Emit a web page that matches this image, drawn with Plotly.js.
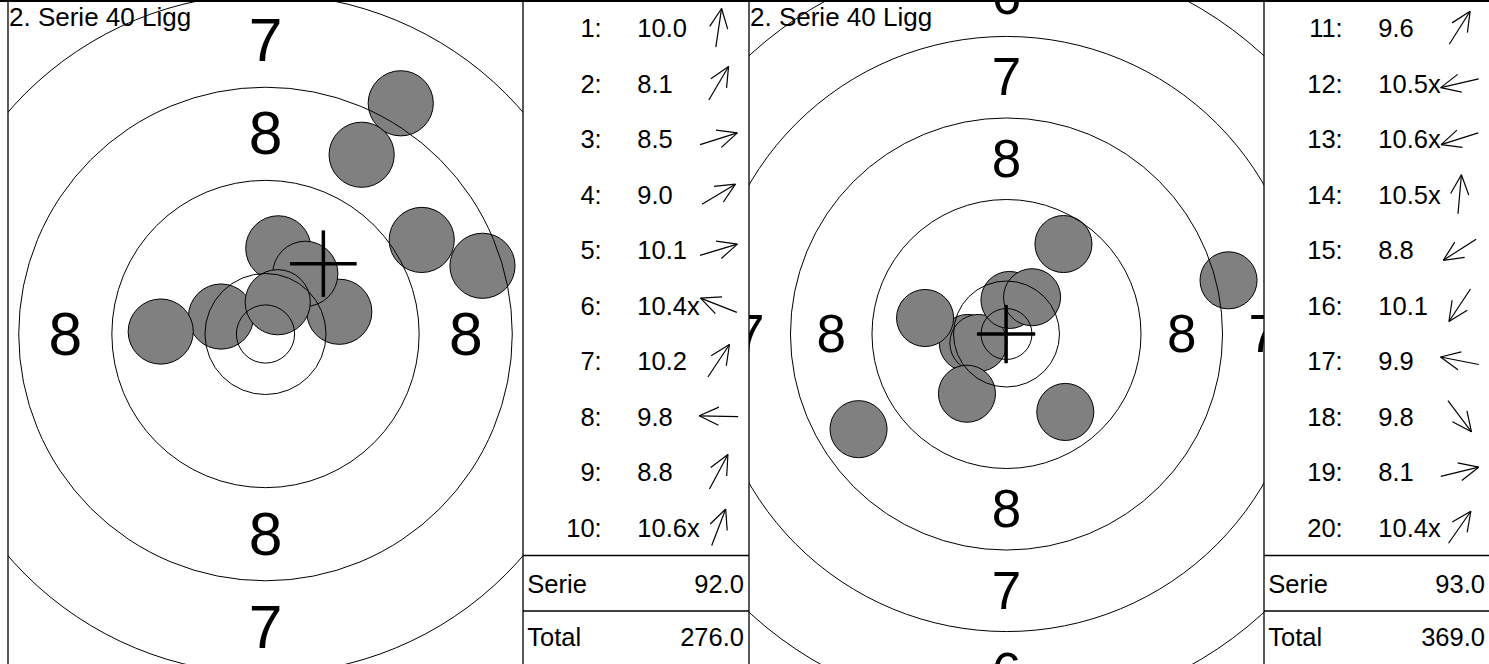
<!DOCTYPE html>
<html><head><meta charset="utf-8">
<script src="https://cdn.plot.ly/plotly-3.0.1.min.js"></script>
<style>html,body{margin:0;padding:0;background:#fff;overflow:hidden}#chart{width:1489px;height:664px}</style>
</head><body><div id="chart"></div>
<script>
// ---------------- data ----------------
const titleText = '2. Serie 40 Ligg';

const shotNumbers1 = [1, 2, 3, 4, 5, 6, 7, 8, 9, 10];
const shotScores1  = ['10.0', '8.1', '8.5', '9.0', '10.1', '10.4x', '10.2', '9.8', '8.8', '10.6x'];
const shotX1 = [1.10, 11.62, 18.64, 13.42, 6.34, -3.82, 3.42, -9.00, 8.26, 1.05];   // mm, right = +
const shotY1 = [7.36, 19.82, 5.86, 8.08, 1.91, 1.50, 5.17, 0.21, 15.40, 2.73];      // mm, up = +
const groupCenter1 = [4.97, 6.04];
const seriesScore1 = '92.0';
const totalScore1  = '276.0';

const shotNumbers2 = [11, 12, 13, 14, 15, 16, 17, 18, 19, 20];
const shotScores2  = ['9.6', '10.5x', '10.6x', '10.5x', '8.8', '10.1', '9.9', '9.8', '8.1', '10.4x'];
const shotX2 = [5.59, -3.80, -2.76, 0.29, -14.52, -3.88, -7.99, 5.77, 21.79, 2.51];
const shotY2 = [8.83, -0.88, -0.88, 3.34, -9.34, -5.86, 1.57, -7.65, 5.27, 3.61];
const groupCenter2 = [-0.04, -0.01];
const seriesScore2 = '93.0';
const totalScore2  = '369.0';

const ringRadii      = [2.5, 5.2, 13.2, 21.2, 29.2, 37.2, 45.2, 53.2, 61.2, 69.2, 77.2]; // mm
const zoneLabels     = ['8', '7', '6', '5', '4', '3', '2', '1'];
const zoneLabelRadii = [17.2, 25.2, 33.2, 41.2, 49.2, 57.2, 65.2, 73.2];
const bulletRadius = 2.8;

// ---------------- layout constants ----------------
const W = 1489, H = 664;
const TARGET_W = 515, TABLE_W = 226;
const FONT = 'Liberation Sans, Arial, Helvetica, sans-serif';
const ROW0 = 27.75, ROW_H = 55.5;
const SERIE_Y = 583.3, TOTAL_Y = 636.7, LINE1_Y = 555.6, LINE2_Y = 611;
const NUM_RIGHT = 78.7, SCORE_LEFT = 114.3, ARROW_CX = 195.7, LEFT_PAD = 4.3, RIGHT_X = 221;
const ARROW_L = 39, HEAD_L = 21.5, HEAD_ANG = 25 * Math.PI / 180;
const TABLE_FS = 25.5, TITLE_FS = 26, LABEL_MM = 5.2, CROSS_MM = 2.86;
const TEXT_SHIFT = 0.105;   // vertical correction of text baseline, in font-size units

const panels = [
  {x0: 8,   scale: 11.64, cy: 334, nums: shotNumbers1, scores: shotScores1, xs: shotX1, ys: shotY1,
   mpi: groupCenter1, serie: seriesScore1, total: totalScore1, ax: ['x', 'y', 'x2', 'y2']},
  {x0: 749, scale: 10.19, cy: 334, nums: shotNumbers2, scores: shotScores2, xs: shotX2, ys: shotY2,
   mpi: groupCenter2, serie: seriesScore2, total: totalScore2, ax: ['x3', 'y3', 'x4', 'y4']}
];

const traces = [], shapes = [], annotations = [];
const layout = {
  width: W, height: H, margin: {l: 0, r: 0, t: 0, b: 0},
  paper_bgcolor: '#ffffff', plot_bgcolor: '#ffffff', showlegend: false,
  font: {family: FONT, color: '#000'}
};
const axName = id => (id[0] === 'x' ? 'xaxis' : 'yaxis') + (id.length > 1 ? id.slice(1) : '');
const hidden = {visible: false, showgrid: false, zeroline: false, fixedrange: true};

panels.forEach(p => {
  const [tx, ty, bx, by] = p.ax;
  const s = p.scale;
  const tabStart = p.x0 + TARGET_W;
  const tabEnd = Math.min(W, tabStart + TABLE_W);

  layout[axName(tx)] = Object.assign({}, hidden, {anchor: ty,
    domain: [p.x0 / W, tabStart / W], range: [-TARGET_W / 2 / s, TARGET_W / 2 / s]});
  layout[axName(ty)] = Object.assign({}, hidden, {anchor: tx,
    domain: [0, 1], range: [-(H - p.cy) / s, p.cy / s]});
  layout[axName(bx)] = Object.assign({}, hidden, {anchor: by,
    domain: [tabStart / W, tabEnd / W], range: [0, tabEnd - tabStart]});
  layout[axName(by)] = Object.assign({}, hidden, {anchor: bx,
    domain: [0, 1], range: [H, 0]});

  // shots (drawn first, rings on top)
  p.xs.forEach((x, i) => {
    shapes.push({type: 'circle', xref: tx, yref: ty, layer: 'below',
      x0: x - bulletRadius, x1: x + bulletRadius, y0: p.ys[i] - bulletRadius, y1: p.ys[i] + bulletRadius,
      fillcolor: '#808080', line: {color: '#000', width: 1}});
  });
  ringRadii.forEach(r => {
    shapes.push({type: 'circle', xref: tx, yref: ty, layer: 'below',
      x0: -r, x1: r, y0: -r, y1: r, fillcolor: 'rgba(0,0,0,0)', line: {color: '#000', width: 1}});
  });

  // zone numbers
  const lx = [], ly = [], lt = [];
  const dyl = TEXT_SHIFT * LABEL_MM * 0.87;
  zoneLabels.forEach((t, i) => {
    const r = zoneLabelRadii[i];
    [[0, r], [0, -r], [-r, 0], [r, 0]].forEach(([a, b]) => { lx.push(a); ly.push(b - dyl); lt.push(t); });
  });
  traces.push({type: 'scatter', mode: 'text', xaxis: tx, yaxis: ty, x: lx, y: ly, text: lt,
    textposition: 'middle center', cliponaxis: true, hoverinfo: 'skip',
    textfont: {family: FONT, size: LABEL_MM * s, color: '#000'}});

  // group centre cross
  const [cx, cyy] = p.mpi, h = CROSS_MM;
  traces.push({type: 'scatter', mode: 'lines', xaxis: tx, yaxis: ty,
    x: [cx - h, cx + h, null, cx, cx], y: [cyy, cyy, null, cyy - h, cyy + h],
    line: {color: '#000', width: 3.5}, hoverinfo: 'skip'});

  // table
  const rows = p.nums.map((n, i) => ROW0 + ROW_H * i);
  const dyt = TEXT_SHIFT * TABLE_FS * 1.1;
  const trows = rows.map(y => y + dyt);
  const tf = {family: FONT, size: TABLE_FS, color: '#000'};
  traces.push({type: 'scatter', mode: 'text', xaxis: bx, yaxis: by, cliponaxis: false, hoverinfo: 'skip',
    x: rows.map(() => NUM_RIGHT), y: trows, text: p.nums.map(n => n + ':'), textposition: 'middle left', textfont: tf});
  traces.push({type: 'scatter', mode: 'text', xaxis: bx, yaxis: by, cliponaxis: false, hoverinfo: 'skip',
    x: rows.map(() => SCORE_LEFT), y: trows, text: p.scores, textposition: 'middle right', textfont: tf});
  traces.push({type: 'scatter', mode: 'text', xaxis: bx, yaxis: by, cliponaxis: false, hoverinfo: 'skip',
    x: [LEFT_PAD, LEFT_PAD], y: [SERIE_Y + dyt, TOTAL_Y + dyt], text: ['Serie', 'Total'], textposition: 'middle right', textfont: tf});
  traces.push({type: 'scatter', mode: 'text', xaxis: bx, yaxis: by, cliponaxis: false, hoverinfo: 'skip',
    x: [RIGHT_X, RIGHT_X], y: [SERIE_Y + dyt, TOTAL_Y + dyt], text: [p.serie, p.total], textposition: 'middle left', textfont: tf});

  // direction arrows
  const axs = [], ays = [];
  p.xs.forEach((x, i) => {
    const th = Math.atan2(p.ys[i], x);
    const ux = Math.cos(th), uy = -Math.sin(th);
    const cyRow = rows[i];
    const tipX = ARROW_CX + ux * ARROW_L / 2, tipY = cyRow + uy * ARROW_L / 2;
    const tailX = ARROW_CX - ux * ARROW_L / 2, tailY = cyRow - uy * ARROW_L / 2;
    axs.push(tailX, tipX, null); ays.push(tailY, tipY, null);
    [HEAD_ANG, -HEAD_ANG].forEach(a => {
      const hx = ux * Math.cos(a) - uy * Math.sin(a), hy = ux * Math.sin(a) + uy * Math.cos(a);
      axs.push(tipX, tipX - hx * HEAD_L, null); ays.push(tipY, tipY - hy * HEAD_L, null);
    });
  });
  traces.push({type: 'scatter', mode: 'lines', xaxis: bx, yaxis: by, x: axs, y: ays,
    line: {color: '#000', width: 1.2}, hoverinfo: 'skip', cliponaxis: false});

  // borders
  [p.x0, tabStart].forEach(px => shapes.push({type: 'line', xref: 'paper', yref: 'paper',
    x0: px / W, x1: px / W, y0: 0, y1: 1, line: {color: '#000', width: 1.3}}));
  [LINE1_Y, LINE2_Y].forEach(py => shapes.push({type: 'line', xref: 'paper', yref: 'paper',
    x0: tabStart / W, x1: tabEnd / W, y0: 1 - py / H, y1: 1 - py / H, line: {color: '#000', width: 1.5}}));

  annotations.push({xref: 'paper', yref: 'paper', x: (p.x0 - 1.5) / W, y: 1,
    xanchor: 'left', yanchor: 'top', showarrow: false, text: titleText,
    font: {family: FONT, size: TITLE_FS, color: '#000'}});
});

shapes.push({type: 'line', xref: 'paper', yref: 'paper', x0: 0, x1: 1, y0: 1 - 1 / H, y1: 1 - 1 / H,
  line: {color: '#000', width: 2}});

layout.shapes = shapes;
layout.annotations = annotations;
Plotly.newPlot('chart', traces, layout, {displayModeBar: false, staticPlot: true});
</script></body></html>
